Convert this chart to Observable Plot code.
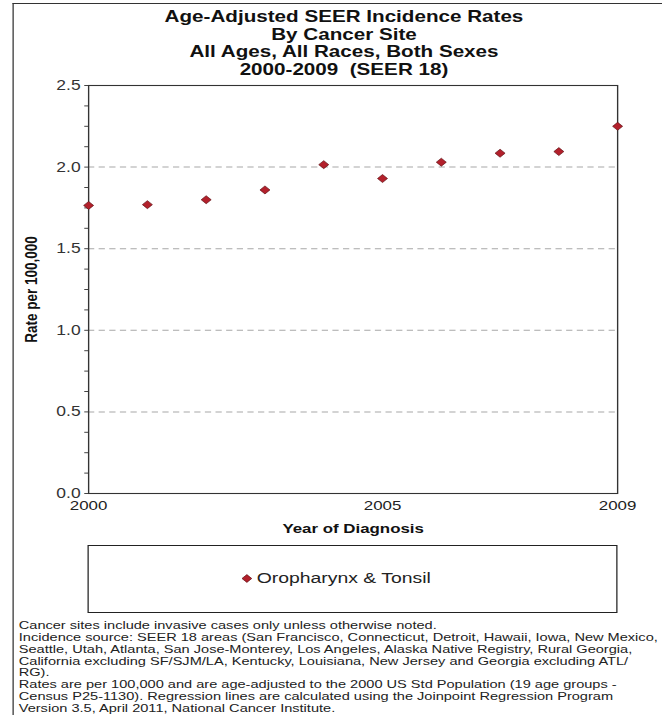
<!DOCTYPE html>
<html>
<head>
<meta charset="utf-8">
<script src="https://cdn.jsdelivr.net/npm/d3@7"></script>
<script src="https://cdn.jsdelivr.net/npm/@observablehq/plot@0.6"></script>
<style>
  html, body { margin: 0; padding: 0; background: #fff; }
  body { width: 662px; height: 715px; position: relative; overflow: hidden;
         font-family: "Liberation Sans", Arial, Helvetica, sans-serif; }
  /* the reference is stretched horizontally; lay out at 1/1.25 width and scale */
  #page { position: absolute; left: 0; top: 0; width: 530px; height: 715px;
          transform: scale(1.25, 1); transform-origin: 0 0; }
  #frame { position: absolute; left: 10.4px; top: 3px; width: 540px; height: 730px;
           border-left: 1px solid #333; border-top: 1px solid #333; box-sizing: border-box; }
  #title { position: absolute; left: 0; width: 550.4px; top: 8px; text-align: center;
           font-weight: bold; font-size: 16.5px; line-height: 17.6px; color: #111; white-space: pre; }
  #chart { position: absolute; left: 0; top: 80px; }
  #legend { position: absolute; left: 70.4px; top: 545px; width: 423.2px; height: 68px;
            border: 1px solid #222; box-sizing: border-box; }
  #legend .item { position: absolute; left: 122px; top: 23px; font-size: 15.5px; color: #222;
                  display: flex; align-items: center; }
  #legend svg { margin-right: 3px; }
  #foot { position: absolute; left: 15.4px; top: 620px; font-size: 10.4px; line-height: 11.86px;
          color: #222; white-space: nowrap; transform: scaleX(1.122); transform-origin: 0 0; }
</style>
</head>
<body>
<div id="page">
  <div id="frame"></div>
  <div id="title"></div>
  <div id="chart"></div>
  <div id="legend"></div>
  <div id="foot"></div>
</div>
<script>
const titleLines = [
  "Age-Adjusted SEER Incidence Rates",
  "By Cancer Site",
  "All Ages, All Races, Both Sexes",
  "2000-2009  (SEER 18)"
];
const years = [2000, 2001, 2002, 2003, 2004, 2005, 2006, 2007, 2008, 2009];
const rates = [1.765, 1.77, 1.80, 1.86, 2.015, 1.93, 2.03, 2.085, 2.095, 2.25];
const seriesName = "Oropharynx & Tonsil";
const xTicks = [2000, 2005, 2009];
const yTicks = [0, 0.5, 1.0, 1.5, 2.0, 2.5];
const yGrid = [0.5, 1.0, 1.5, 2.0];
const yMinor = [0, 0.125, 0.25, 0.375, 0.5, 0.625, 0.75, 0.875, 1.0, 1.125, 1.25, 1.375,
                1.5, 1.625, 1.75, 1.875, 2.0, 2.125, 2.25, 2.375, 2.5];
const xLabel = "Year of Diagnosis";
const yLabel = "Rate per 100,000";
const footLines = [
  "Cancer sites include invasive cases only unless otherwise noted.",
  "Incidence source: SEER 18 areas (San Francisco, Connecticut, Detroit, Hawaii, Iowa, New Mexico,",
  "Seattle, Utah, Atlanta, San Jose-Monterey, Los Angeles, Alaska Native Registry, Rural Georgia,",
  "California excluding SF/SJM/LA, Kentucky, Louisiana, New Jersey and Georgia excluding ATL/",
  "RG).",
  "Rates are per 100,000 and are age-adjusted to the 2000 US Std Population (19 age groups -",
  "Census P25-1130). Regression lines are calculated using the Joinpoint Regression Program",
  "Version 3.5, April 2011, National Cancer Institute."
];

const data = years.map((y, i) => ({year: y, rate: rates[i]}));
const markFill = "#b3202b";
const markStroke = "#5c0d12";

const titleEl = document.getElementById("title");
titleLines.forEach(t => { const d = document.createElement("div"); d.textContent = t; titleEl.appendChild(d); });
const footEl = document.getElementById("foot");
footLines.forEach(t => { const d = document.createElement("div"); d.textContent = t; footEl.appendChild(d); });

const chart = Plot.plot({
  width: 530,
  height: 460,
  marginLeft: 70.4,
  marginRight: 36.4,
  marginTop: 5,
  marginBottom: 47,
  style: {fontFamily: "'Liberation Sans', Arial, sans-serif", fontSize: "13px", background: "transparent", overflow: "visible"},
  x: {domain: [2000, 2009]},
  y: {domain: [0, 2.5]},
  marks: [
    Plot.ruleY(yGrid, {stroke: "#a8a8a8", strokeDasharray: "5,3.5", strokeWidth: 1}),
    Plot.axisY({ticks: yMinor, tickSize: 3, tickFormat: () => "", stroke: "#444", label: null}),
    Plot.axisY({ticks: yTicks, tickSize: 0, tickPadding: 6.4, tickFormat: d3.format(".1f"),
                fill: "#333", fontSize: 14, label: null}),
    Plot.axisX({ticks: xTicks, tickSize: 0, tickPadding: 7, tickFormat: d => String(d),
                fill: "#222", fontSize: 13.5, label: null}),
    Plot.text([xLabel], {frameAnchor: "bottom", dy: 39, fontWeight: "bold", fontSize: 13.5, fill: "#111"}),
    Plot.text([yLabel], {frameAnchor: "left", textAnchor: "middle", dx: -45.6, rotate: -90,
                         fontWeight: "bold", fontSize: 13.5, fill: "#111",
                         fontFamily: "'Liberation Sans Narrow', 'Arial Narrow', sans-serif"}),
    Plot.frame({stroke: "#333", strokeWidth: 1.1}),
    Plot.dot(data, {x: "year", y: "rate", symbol: "diamond2", r: 3.6, fill: markFill,
                    stroke: markStroke, strokeWidth: 0.6, clip: false})
  ]
});
document.getElementById("chart").appendChild(chart);

document.getElementById("legend").innerHTML =
  `<div class="item"><svg width="9" height="9" viewBox="-4.5 -4.5 9 9">` +
  `<path d="M0,-3.9L3.9,0L0,3.9L-3.9,0Z" fill="${markFill}" stroke="${markStroke}" stroke-width="0.6"/></svg>` +
  `<span></span></div>`;
document.querySelector("#legend span").textContent = seriesName;
</script>
</body>
</html>
